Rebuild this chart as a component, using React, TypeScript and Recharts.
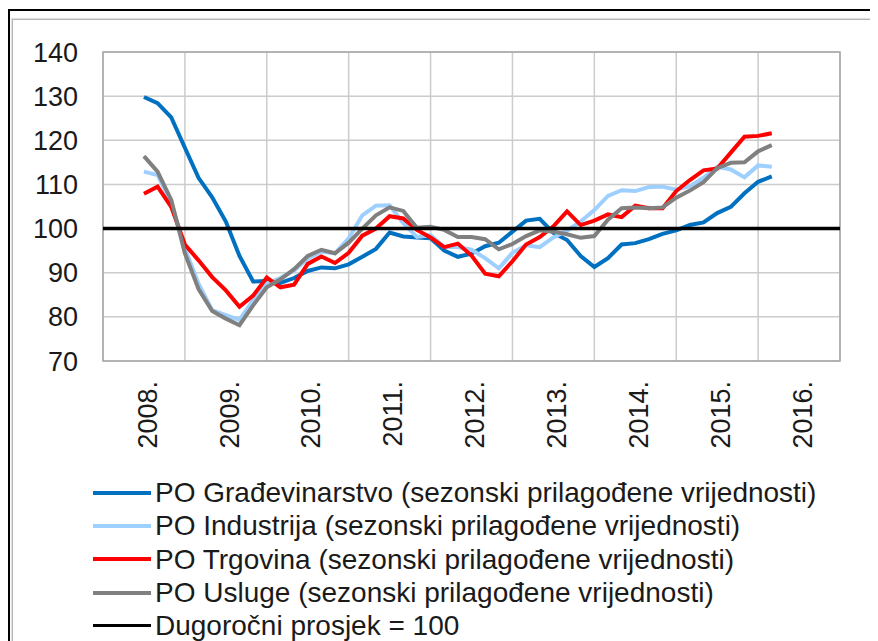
import React from "react";
import {
  LineChart,
  Line,
  XAxis,
  YAxis,
  CartesianGrid,
  ReferenceLine,
  ReferenceArea,
} from "recharts";

// month index counted from January 2008
const months = [
  6, 8, 10, 12, 14, 16, 18, 20, 22, 24, 26, 28, 30, 32, 34, 36, 38, 40, 42, 44,
  46, 48, 50, 52, 54, 56, 58, 60, 62, 64, 66, 68, 70, 72, 74, 76, 78, 80, 82, 84,
  86, 88, 90, 92, 94, 96, 98,
];

const gradjevinarstvo = [
  129.8, 128.4, 125.2, 118.3, 111.5, 107.1, 101.6, 93.8, 88.0, 88.1, 87.7, 88.8,
  90.4, 91.2, 91.0, 91.9, 93.6, 95.4, 99.1, 98.2, 98.0, 97.8, 95.0, 93.6, 94.3,
  96.0, 96.8, 99.3, 101.8, 102.2, 99.0, 97.4, 93.8, 91.3, 93.3, 96.4, 96.7, 97.6,
  98.8, 99.6, 100.8, 101.4, 103.5, 104.9, 108.0, 110.6, 111.8,
];

const industrija = [
  112.9, 112.1, 106.0, 95.5, 87.5, 81.5, 80.4, 79.3, 83.8, 87.6, 88.8, 90.5,
  93.2, 94.8, 94.4, 97.8, 103.0, 105.2, 105.3, 101.2, 98.1, 98.5, 95.8, 95.8,
  95.2, 93.3, 91.0, 94.5, 96.2, 95.8, 98.0, 99.5, 101.6, 104.2, 107.4, 108.7,
  108.5, 109.4, 109.5, 108.8, 109.6, 111.5, 114.0, 113.4, 111.6, 114.3, 114.0,
];

const trgovina = [
  107.9, 109.5, 104.9, 96.4, 92.8, 89.0, 86.0, 82.3, 84.8, 88.9, 86.7, 87.3,
  92.0, 93.7, 92.2, 94.5, 98.4, 100.0, 102.8, 102.3, 99.7, 98.0, 95.8, 96.6,
  93.9, 89.8, 89.2, 92.6, 96.4, 98.1, 100.5, 103.9, 100.8, 101.8, 103.2, 102.6,
  105.2, 104.6, 104.6, 108.5, 111.0, 113.2, 113.6, 117.2, 120.8, 121.0, 121.6,
];

const usluge = [
  116.4, 112.9, 106.5, 94.4, 86.3, 81.3, 79.6, 78.1, 82.6, 86.7, 88.5, 90.8,
  93.8, 95.2, 94.4, 96.8, 100.0, 103.0, 104.8, 104.0, 100.2, 100.4, 99.7, 98.1,
  98.1, 97.6, 95.3, 96.5, 98.3, 99.6, 99.3, 98.7, 97.9, 98.3, 102.0, 104.6,
  104.8, 104.6, 104.8, 107.0, 108.6, 110.5, 113.7, 114.9, 115.0, 117.5, 118.9,
];

const LONG_TERM_AVG = 100;

const yearBoundaries = [0, 12, 24, 36, 48, 60, 72, 84, 96, 108];
const yearCenters = [6, 18, 30, 42, 54, 66, 78, 90, 102];
const yearLabels = ["2008.", "2009.", "2010.", "2011.", "2012.", "2013.", "2014.", "2015.", "2016."];
const yTicks = [70, 80, 90, 100, 110, 120, 130, 140];

const seriesNames = [
  "PO Građevinarstvo (sezonski prilagođene vrijednosti)",
  "PO Industrija (sezonski prilagođene vrijednosti)",
  "PO Trgovina (sezonski prilagođene vrijednosti)",
  "PO Usluge (sezonski prilagođene vrijednosti)",
  "Dugoročni prosjek = 100",
];
const seriesColors = ["#0070C0", "#9DCFFF", "#FF0000", "#808080", "#000000"];

const data = months.map((m, i) => ({
  m,
  g: gradjevinarstvo[i],
  ind: industrija[i],
  trg: trgovina[i],
  usl: usluge[i],
}));

const FONT = "'Liberation Sans', Arial, Helvetica, sans-serif";
const TEXT_COLOR = "#1a1a1a";

const YearTick = (props: any) => {
  const { x, y, payload } = props;
  const idx = yearCenters.indexOf(payload.value);
  return (
    <g transform={`translate(${x + 3},${y - 27})`}>
      <text
        transform="rotate(-90)"
        textAnchor="end"
        dy="0.36em"
        fontSize={27}
        fontFamily={FONT}
        fill={TEXT_COLOR}
      >
        {yearLabels[idx]}
      </text>
    </g>
  );
};

export default function App() {
  return (
    <div
      style={{
        position: "relative",
        width: 870,
        height: 633,
        overflow: "hidden",
        background: "#fff",
        fontFamily: FONT,
      }}
    >
      <div
        style={{
          position: "absolute",
          left: 0,
          top: 1,
          width: 2000,
          height: 2000,
          borderLeft: "2px solid #000",
          borderTop: "2px solid #000",
        }}
      />
      <div
        style={{
          position: "absolute",
          left: 4,
          top: 11,
          width: 2000,
          height: 2000,
          borderLeft: "1px solid #b5b5b5",
          borderTop: "1px solid #b5b5b5",
          boxShadow: "-1px -1px 1px #e0e0e0",
        }}
      />
      <div style={{ position: "absolute", left: 0, top: 0 }}>
        <LineChart
          width={870}
          height={460}
          data={data}
          margin={{ top: 44, right: 38, bottom: 7, left: 0 }}
        >
          <XAxis xAxisId="grid" dataKey="m" type="number" domain={[0, 108]} ticks={yearBoundaries} hide />
          <XAxis
            xAxisId="lbl"
            dataKey="m"
            type="number"
            domain={[0, 108]}
            ticks={yearCenters}
            interval={0}
            axisLine={false}
            tickLine={false}
            tickSize={0}
            tickMargin={17}
            height={100}
            tick={<YearTick />}
          />
          <YAxis
            type="number"
            domain={[70, 140]}
            ticks={yTicks}
            interval={0}
            width={95}
            axisLine={false}
            tickLine={false}
            tickSize={0}
            tickMargin={25}
            tick={{ fontSize: 27, fontFamily: FONT, fill: TEXT_COLOR }}
          />
          <CartesianGrid xAxisId="grid" stroke="#cccccc" strokeWidth={1.5} />
          <ReferenceArea
            xAxisId="grid"
            x1={0}
            x2={108}
            y1={70}
            y2={140}
            fill="none"
            fillOpacity={0}
            stroke="#a6a6a6"
            strokeWidth={1.5}
          />
          <Line xAxisId="lbl" dataKey="g" stroke={seriesColors[0]} strokeWidth={4} dot={false} isAnimationActive={false} />
          <Line xAxisId="lbl" dataKey="ind" stroke={seriesColors[1]} strokeWidth={4} dot={false} isAnimationActive={false} />
          <Line xAxisId="lbl" dataKey="trg" stroke={seriesColors[2]} strokeWidth={4} dot={false} isAnimationActive={false} />
          <Line xAxisId="lbl" dataKey="usl" stroke={seriesColors[3]} strokeWidth={4} dot={false} isAnimationActive={false} />
          <ReferenceLine xAxisId="lbl" y={LONG_TERM_AVG} stroke="#000" strokeWidth={3.5} />
        </LineChart>
      </div>
      <div style={{ position: "absolute", left: 85, top: 468 }}>
        {seriesNames.map((name, i) => (
          <div
            key={name}
            style={{ display: "flex", alignItems: "center", height: 33.3, whiteSpace: "nowrap" }}
          >
            <div
              style={{
                width: 58,
                height: i === 4 ? 3 : 4,
                background: seriesColors[i],
                marginRight: 4,
              }}
            />
            <span style={{ fontSize: 28, color: TEXT_COLOR, lineHeight: "33px" }}>{name}</span>
          </div>
        ))}
      </div>
    </div>
  );
}
